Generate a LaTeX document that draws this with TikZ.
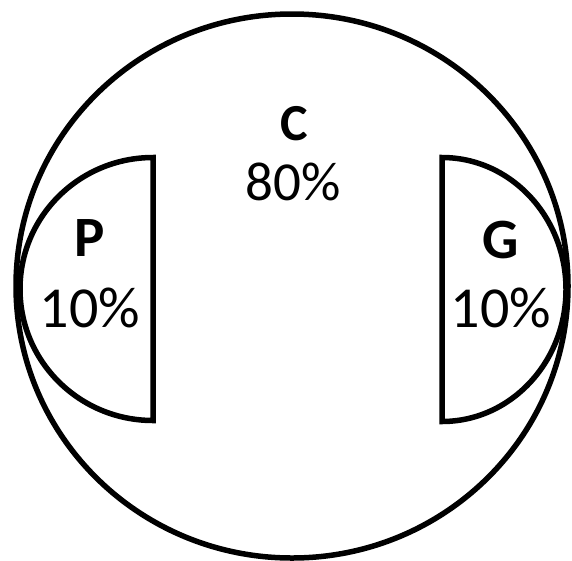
\documentclass[tikz,border=0pt]{standalone}
\usepackage{fontspec}
\setmainfont{Carlito}
\begin{document}
\begin{tikzpicture}[x=1pt,y=-1pt,
  outline/.style={draw=black,line width=5.5pt,line join=miter},
  lbl/.style={font=\fontsize{55}{60}\selectfont,inner sep=0pt,anchor=center},
  head/.style={lbl,font=\fontsize{52}{60}\selectfont\bfseries},
  side/.style={lbl,font=\fontsize{58}{64}\selectfont},
  sidehead/.style={lbl,font=\fontsize{57}{64}\selectfont\bfseries}]
  \useasboundingbox (0,0) rectangle (572,560);

  % outer region C
  \draw[outline] (292,286) ellipse [x radius=276, y radius=272];

  % half-disk P on the left (y axis points down, so -90 is the top)
  \draw[outline] (153,157.5) arc [start angle=-90, end angle=-270, x radius=133, y radius=131.5] -- cycle;

  % half-disk G on the right
  \draw[outline] (442,157.5) arc [start angle=-90, end angle=90, x radius=124, y radius=132] -- cycle;

  % labels
  \node[head]     (cname) at (294,124) {C};
  \node[lbl]      (cval)  at (293,182) {80\%};
  \node[sidehead] (pname) at (90,238) {P};
  \node[side]     (pval)  at (90,308) {10\%};
  \node[sidehead] (gname) at (501,240) {G};
  \node[side]     (gval)  at (501,308) {10\%};
\end{tikzpicture}
\end{document}
